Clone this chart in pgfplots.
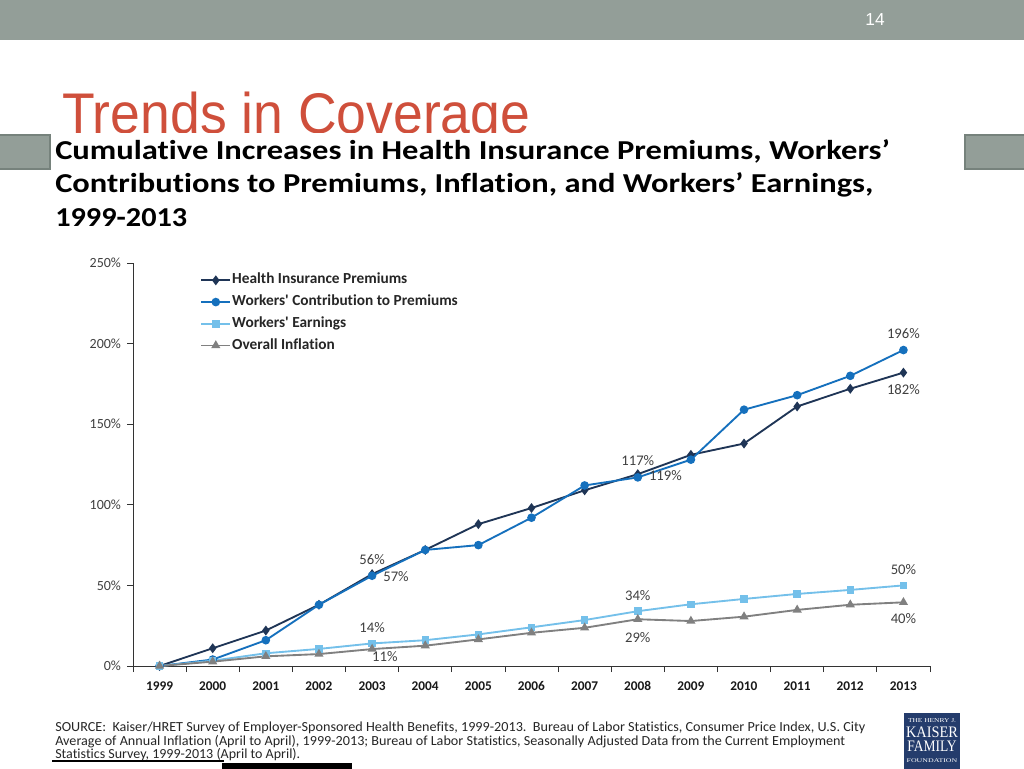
\documentclass[border=0pt]{standalone}
\usepackage{pgfplots}
\pgfplotsset{compat=1.18}
\usepackage{graphicx}
\usepackage{fontspec}
\setmainfont{Carlito}[Ligatures={NoCommon}]
\newfontfamily\arialfont{Liberation Sans}
\newfontfamily\timesfont{Liberation Serif}

\definecolor{cPrem}{HTML}{1F3556}
\definecolor{cContr}{HTML}{1570BD}
\definecolor{cEarn}{HTML}{74C0EA}
\definecolor{cInfl}{HTML}{808080}
\definecolor{banner}{HTML}{939E98}
\definecolor{bannerdark}{HTML}{76827C}
\definecolor{titlered}{HTML}{CF4F3B}
\definecolor{lblgray}{HTML}{404040}
\definecolor{kff}{HTML}{243C6C}

\begin{document}
\begin{tikzpicture}
\useasboundingbox (0,0) rectangle (768pt,576pt);
\fill[white] (0,0) rectangle (768pt,576pt);

% slide decorations, in image pixels (y downwards)
\begin{scope}[shift={(0pt,576pt)},x=0.75pt,y=-0.75pt]
  \fill[banner] (0,0) rectangle (1024,40);
  \node[text=white,font=\arialfont\fontsize{13}{15}\selectfont] at (875,20) {14};
  \fill[banner,draw=bannerdark,line width=0.8pt] (-2,135) rectangle (50,169);
  \fill[banner,draw=bannerdark,line width=0.8pt] (965,135) rectangle (1026,169);
  \begin{scope}
    \clip (0,40) rectangle (1024,133);
    \node[anchor=base west,inner sep=0pt,text=titlered,font=\arialfont\fontsize{43}{50}\selectfont]
      at (62,134) {\resizebox{351pt}{\height}{Trends in Coverage}};
  \end{scope}
  % chart title
  \begin{scope}[every node/.style={anchor=base west,inner sep=0pt,font=\bfseries\fontsize{20.5}{24}\selectfont}]
    \node at (55,159.5) {\resizebox{626pt}{\height}{Cumulative Increases in Health Insurance Premiums, Workers’}};
    \node at (55,192.5) {\resizebox{613.5pt}{\height}{Contributions to Premiums, Inflation, and Workers’ Earnings,}};
    \node at (55,226.5) {\resizebox{99pt}{\height}{1999-2013}};
  \end{scope}
  % source note
  \begin{scope}[every node/.style={anchor=base west,inner sep=0pt,text=black!85,font=\fontsize{10.4}{12}\selectfont}]
    \node at (55,731) {\resizebox{607.5pt}{\height}{SOURCE:\ \ Kaiser/HRET Survey of Employer-Sponsored Health Benefits, 1999-2013.\ \ Bureau of Labor Statistics, Consumer Price Index, U.S. City}};
    \node at (55,745) {\resizebox{592.5pt}{\height}{Average of Annual Inflation (April to April), 1999-2013; Bureau of Labor Statistics, Seasonally Adjusted Data from the Current Employment}};
    \node at (55,758.5) {\resizebox{183.75pt}{\height}{Statistics Survey, 1999-2013 (April to April).}};
  \end{scope}
  \draw[black,line width=0.8pt] (52,761) -- (224,761);
  \fill[black] (222,763) rectangle (352,770);
  % logo
  \fill[kff] (904,713) rectangle (960,770);
  \begin{scope}[every node/.style={text=white,inner sep=0pt}]
    \node at (932,720.5) {\resizebox{36pt}{\height}{\timesfont\fontsize{4.5}{5}\selectfont THE HENRY J.}};
    \node[anchor=base] at (932,737.5) {\resizebox{39pt}{\height}{\timesfont\fontsize{12}{13}\selectfont KAISER}};
    \node[anchor=base] at (932,751) {\resizebox{37pt}{\height}{\timesfont\fontsize{12}{13}\selectfont FAMILY}};
    \node at (932,761) {\resizebox{38pt}{\height}{\timesfont\fontsize{4.2}{5}\selectfont FOUNDATION}};
  \end{scope}
\end{scope}

\begin{axis}[
  at={(99.75pt,76.5pt)}, anchor=south west,
  scale only axis, width=597.75pt, height=302.25pt,
  xmin=1998.5, xmax=2013.5, ymin=0, ymax=250,
  axis x line*=bottom, axis y line*=left,
  axis line style={-,draw=black!80,line width=0.6pt},
  tick align=outside,
  xtick={1999,...,2013},
  major x tick style={draw=none},
  minor xtick={1998.5,1999.5,...,2013.5},
  minor x tick style={draw=black!80,line width=0.6pt},
  minor tick length=4.5pt,
  ytick={0,50,...,250},
  major y tick style={draw=black!80,line width=0.6pt},
  major tick length=4.5pt,
  /pgf/number format/assume math mode=true,
  x tick label style={/pgf/number format/1000 sep={},font=\bfseries\fontsize{10}{12}\selectfont,text=black!90,yshift=-3.5pt},
  yticklabel={\pgfmathprintnumber{\tick}\%},
  y tick label style={font=\fontsize{10.5}{12}\selectfont,text=lblgray,xshift=-1pt},
  legend style={at={(rel axis cs:0.084,0.977)},anchor=north west,draw=none,fill=none,
    inner sep=0pt,row sep=4.6pt,
    font=\bfseries\fontsize{11.5}{13}\selectfont,text=black!85,
    nodes={inner sep=0.6pt,text height=8pt,text depth=2.5pt}},
  legend cell align=left,
  legend image code/.code={\draw[mark repeat=2,mark phase=2,#1] plot coordinates {(0pt,0pt)(11pt,0pt)(22pt,0pt)};},
  clip=false,
]
\addplot[cPrem,line width=1.4pt,mark=diamond*,mark size=2.6pt,mark options={solid}] coordinates {
  (1999,0)(2000,11)(2001,22)(2002,38)(2003,57)(2004,72)(2005,88)(2006,98)
  (2007,109)(2008,119)(2009,131)(2010,138)(2011,161)(2012,172)(2013,182)};
\addlegendentry{Health Insurance Premiums}
\addplot[cContr,line width=1.4pt,mark=*,mark size=2.5pt] coordinates {
  (1999,0)(2000,4)(2001,16)(2002,38)(2003,56)(2004,72)(2005,75)(2006,92)
  (2007,112)(2008,117)(2009,128)(2010,159)(2011,168)(2012,180)(2013,196)};
\addlegendentry{Workers\textquotesingle\ Contribution to Premiums}
\addplot[cEarn,line width=1.4pt,mark=square*,mark size=2.1pt] coordinates {
  (1999,0)(2000,3.3)(2001,7.9)(2002,10.6)(2003,14)(2004,16)(2005,19.6)(2006,24)
  (2007,28.5)(2008,34)(2009,38.3)(2010,41.6)(2011,44.7)(2012,47.2)(2013,50)};
\addlegendentry{Workers\textquotesingle\ Earnings}
\addplot[cInfl,line width=1.4pt,mark=triangle*,mark size=2.6pt] coordinates {
  (1999,0)(2000,2.7)(2001,6)(2002,7.4)(2003,10.5)(2004,12.6)(2005,16.5)(2006,20.6)
  (2007,23.7)(2008,29)(2009,27.9)(2010,30.6)(2011,34.8)(2012,38)(2013,39.5)};
\addlegendentry{Overall Inflation}

\begin{scope}[every node/.style={text=lblgray,font=\fontsize{11}{13}\selectfont,inner sep=0pt}]
  \node at (axis cs:2013,206) {196\%};
  \node at (axis cs:2013,171.2) {182\%};
  \node at (axis cs:2008,127.5) {117\%};
  \node at (axis cs:2008.52,118.4) {119\%};
  \node at (axis cs:2003,66) {56\%};
  \node at (axis cs:2003.45,55.5) {57\%};
  \node at (axis cs:2003,23.6) {14\%};
  \node at (axis cs:2003.24,5.8) {11\%};
  \node at (axis cs:2008,43.8) {34\%};
  \node at (axis cs:2008,17.8) {29\%};
  \node at (axis cs:2013,59.6) {50\%};
  \node at (axis cs:2013,29.5) {40\%};
\end{scope}
\end{axis}
\end{tikzpicture}
\end{document}
